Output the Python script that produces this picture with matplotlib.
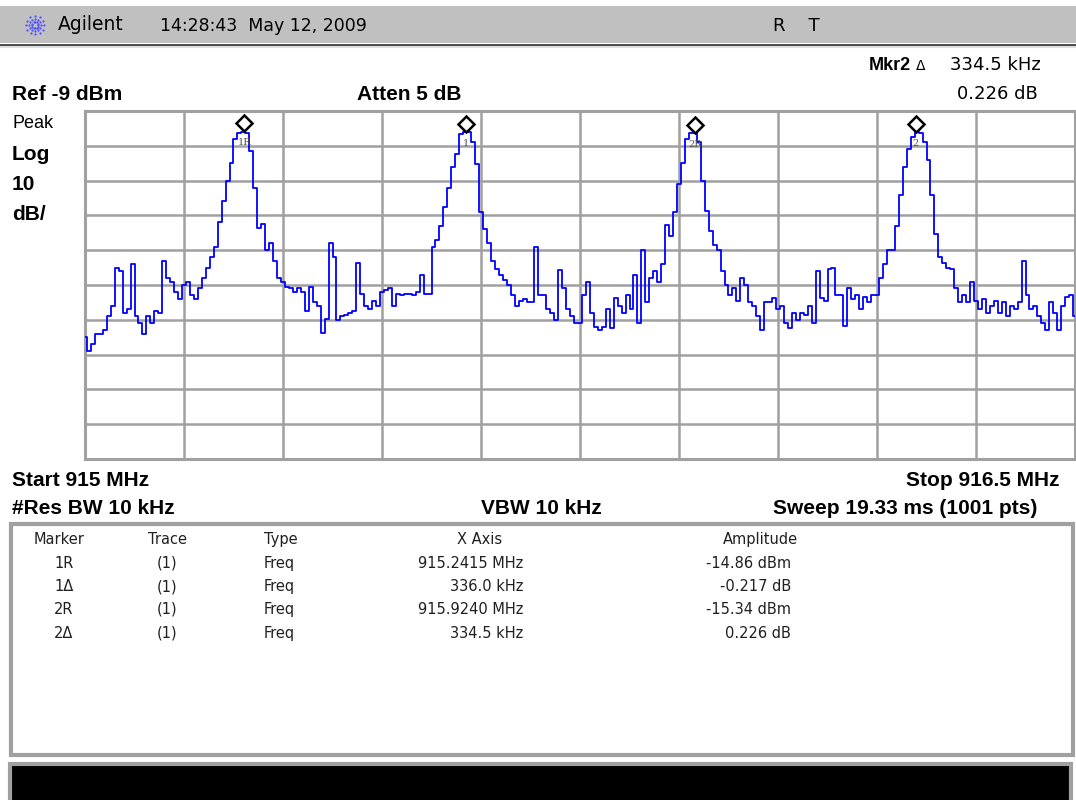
import matplotlib
matplotlib.use('Agg')
import matplotlib.pyplot as plt
import matplotlib.patches as patches
from matplotlib.lines import Line2D
from matplotlib.transforms import offset_copy
import numpy as np

# sweep settings
start_mhz = 915.0
stop_mhz = 916.5
ref_dbm = -9
db_per_div = 10

# trace level (dBm) at every 4th of the 1001 sweep points
trace_dbm = [
    # 915.00 - 915.15
    -74, -78, -76, -73, -73, -72, -68, -65, -54, -55, -67, -66, -53, -68, -70,
    -73, -68, -70, -66.5, -67, -52, -57, -58, -61, -63,
    # 915.15 - 915.30
    -59, -58, -62, -63, -60, -57, -54, -51, -48, -41, -35, -29, -24, -17, -15.2,
    -14.9, -15.2, -20.5, -31, -42.6, -41.5, -49, -47, -52, -57,
    # 915.30 - 915.45
    -58, -59.5, -60, -61, -60, -61, -66.5, -59.5, -64, -65, -72.7, -68.8, -47, -51, -69,
    -68, -67.5, -67, -66.5, -52.7, -61.7, -65, -66, -63.6, -65,
    # 915.45 - 915.60
    -61, -60.5, -60, -65, -61.5, -62, -61.5, -61.5, -62, -61, -56, -61.7, -61.7, -48, -46,
    -42, -36.5, -31, -25, -21.5, -15.7, -14.9, -14.9, -18, -24.3,
    # 915.60 - 915.75
    -38, -43, -47, -52, -54.5, -56, -57.5, -59, -62, -65, -63.6, -63, -64, -64, -48,
    -62, -62, -66, -67, -69, -54.7, -60, -66, -68, -70,
    # 915.75 - 915.90
    -70, -62, -58, -67, -71, -72, -71, -66, -71.5, -62.7, -65, -67, -62, -66, -56,
    -70, -49, -64, -57, -55, -58, -53, -41.7, -45, -38,
    # 915.90 - 916.05
    -30, -24, -17, -15.3, -15.2, -18, -29, -37.7, -43.5, -47.5, -49, -55, -59, -62, -60,
    -63.5, -57, -59, -64, -65, -68, -72, -64, -64, -62.7,
    # 916.05 - 916.20
    -66, -65, -70, -71.5, -67, -69, -67, -67.5, -65, -70, -55, -62.7, -63.6, -54.5, -54,
    -62, -62, -70.8, -60, -63, -62, -66, -62.5, -64, -62,
    # 916.20 - 916.35
    -62, -57, -53, -49, -49, -42, -33, -25, -20, -16.5, -15, -15.2, -18, -23, -33,
    -44.4, -51, -52.7, -54, -54.5, -60, -64, -62, -64, -58,
    # 916.35 - 916.50
    -63.6, -66, -63, -67, -65, -63.6, -67, -64, -68, -65, -66, -64, -52, -62, -66,
    -65, -68, -70, -72, -64, -67, -72, -65, -62.5, -62, -68,
]

marker_names = ['1R', '1', '2R', '2']
marker_mhz = [915.2415, 915.5775, 915.9240, 916.2585]
marker_dbm = [-14.86, -15.08, -15.34, -15.11]

table_cols = ['Marker', 'Trace', 'Type', 'X Axis', 'Amplitude']
table_marker = ['1R', '1\u0394', '2R', '2\u0394']
table_trace = ['(1)', '(1)', '(1)', '(1)']
table_type = ['Freq', 'Freq', 'Freq', 'Freq']
table_xaxis = ['915.2415 MHz', '336.0 kHz', '915.9240 MHz', '334.5 kHz']
table_amp = ['-14.86 dBm', '-0.217 dB', '-15.34 dBm', '0.226 dB']

W, H = 1076, 800
fig = plt.figure(figsize=(W / 100, H / 100), dpi=100)
fig.patch.set_facecolor('white')

bold = dict(family='Liberation Sans', weight='bold')


def fx(x):
    return x / W


def fy(y):
    return 1 - y / H


def put(x, y, s, **kw):
    kw.setdefault('va', 'center')
    fig.text(fx(x), fy(y), s, **kw)


def box(x0, y0, x1, y1, **kw):
    fig.add_artist(patches.Rectangle((fx(x0), fy(y1)), (x1 - x0) / W, (y1 - y0) / H,
                                     transform=fig.transFigure, **kw))


# title bar
box(0, 6, W, 43, facecolor='#c0c0c0', edgecolor='none')
fig.add_artist(Line2D([0, 1], [fy(44.5)] * 2, color='#404040', lw=2, transform=fig.transFigure))
fig.add_artist(Line2D([0, 1], [fy(47)] * 2, color='#e0e0e0', lw=1.5, transform=fig.transFigure))

# agilent spark
cx, cy = 35, 25
for ang in np.arange(0, 360, 30):
    for r in (3, 6, 9):
        fig.add_artist(Line2D([fx(cx + r * np.cos(np.radians(ang)))],
                              [fy(cy + r * np.sin(np.radians(ang)))],
                              marker='o', ms=1.6, mew=0, color='#5050ff',
                              transform=fig.transFigure))

put(58, 25, 'Agilent', fontsize=13.5, family='DejaVu Sans')
put(160, 26, '14:28:43  May 12, 2009', fontsize=12.5, family='DejaVu Sans')
put(773, 26, 'R    T', fontsize=13, family='DejaVu Sans')

# header readouts
put(911, 65, 'Mkr2', fontsize=13, ha='right', **bold)
put(921, 66, '\u0394', fontsize=10, family='DejaVu Sans', ha='center')
put(1041, 65, '334.5 kHz', fontsize=13, family='DejaVu Sans', ha='right')
put(1038, 94, '0.226 dB', fontsize=13, family='DejaVu Sans', ha='right')
put(12, 94, 'Ref -9 dBm', fontsize=15, **bold)
put(357, 94, 'Atten 5 dB', fontsize=15, **bold)
put(12, 124, 'Peak', fontsize=13, family='Liberation Sans')
put(12, 155, 'Log', fontsize=15, **bold)
put(12, 184, '10', fontsize=15, **bold)
put(12, 214, 'dB/', fontsize=15, **bold)

# graticule
ax = fig.add_axes([fx(85), fy(459), (1075 - 85) / W, (459 - 111) / H])
ax.set_xlim(start_mhz, stop_mhz)
ax.set_ylim(ref_dbm - 10 * db_per_div, ref_dbm)
ax.set_xticks(np.linspace(start_mhz, stop_mhz, 11))
ax.set_yticks(np.arange(ref_dbm - 10 * db_per_div, ref_dbm + 1, db_per_div))
ax.grid(True, color='#a0a0a0', lw=1.8)
ax.set_axisbelow(True)
ax.tick_params(length=0, labelbottom=False, labelleft=False)
for sp in ax.spines.values():
    sp.set_color('#a0a0a0')
    sp.set_linewidth(2.2)

freq = np.linspace(start_mhz, stop_mhz, len(trace_dbm))
ax.plot(freq, trace_dbm, color='#0000ff', lw=1.3, drawstyle='steps-mid', zorder=3)

up = offset_copy(ax.transData, fig=fig, x=0, y=8, units='dots')
down = offset_copy(ax.transData, fig=fig, x=0, y=-11, units='dots')
for name, f, a in zip(marker_names, marker_mhz, marker_dbm):
    ax.plot([f], [a], marker='D', ms=8, mfc='white', mec='black', mew=1.8,
            transform=up, zorder=5, clip_on=False)
    ax.text(f, a, name, transform=down, ha='center', va='center', fontsize=7,
            color='#505050', family='DejaVu Serif', zorder=4)

# bottom readouts
put(12, 480, 'Start 915 MHz', fontsize=15, **bold)
put(1060, 480, 'Stop 916.5 MHz', fontsize=15, ha='right', **bold)
put(12, 508, '#Res BW 10 kHz', fontsize=15, **bold)
put(541, 508, 'VBW 10 kHz', fontsize=15, ha='center', **bold)
put(1037, 508, 'Sweep 19.33 ms (1001 pts)', fontsize=15, ha='right', **bold)

# marker table (baseline-aligned rows)
box(11, 524, 1073, 755, facecolor='white', edgecolor='#a0a0a0', lw=3)
row_y = [544, 568, 591, 614, 638]
tf = dict(fontsize=10.5, family='DejaVu Sans', color='#202020', va='baseline')
put(59, row_y[0], table_cols[0], ha='center', **tf)
put(168, row_y[0], table_cols[1], ha='center', **tf)
put(264, row_y[0], table_cols[2], ha='left', **tf)
put(480, row_y[0], table_cols[3], ha='center', **tf)
put(760, row_y[0], table_cols[4], ha='center', **tf)
for i, y in enumerate(row_y[1:]):
    put(64, y, table_marker[i], ha='center', **tf)
    put(167, y, table_trace[i], ha='center', **tf)
    put(264, y, table_type[i], ha='left', **tf)
    put(523, y, table_xaxis[i], ha='right', **tf)
    put(791, y, table_amp[i], ha='right', **tf)

# status bar
box(10, 764, 1071, 805, facecolor='black', edgecolor='#a0a0a0', lw=3)

fig.savefig('out.png', dpi=100, facecolor='white')
